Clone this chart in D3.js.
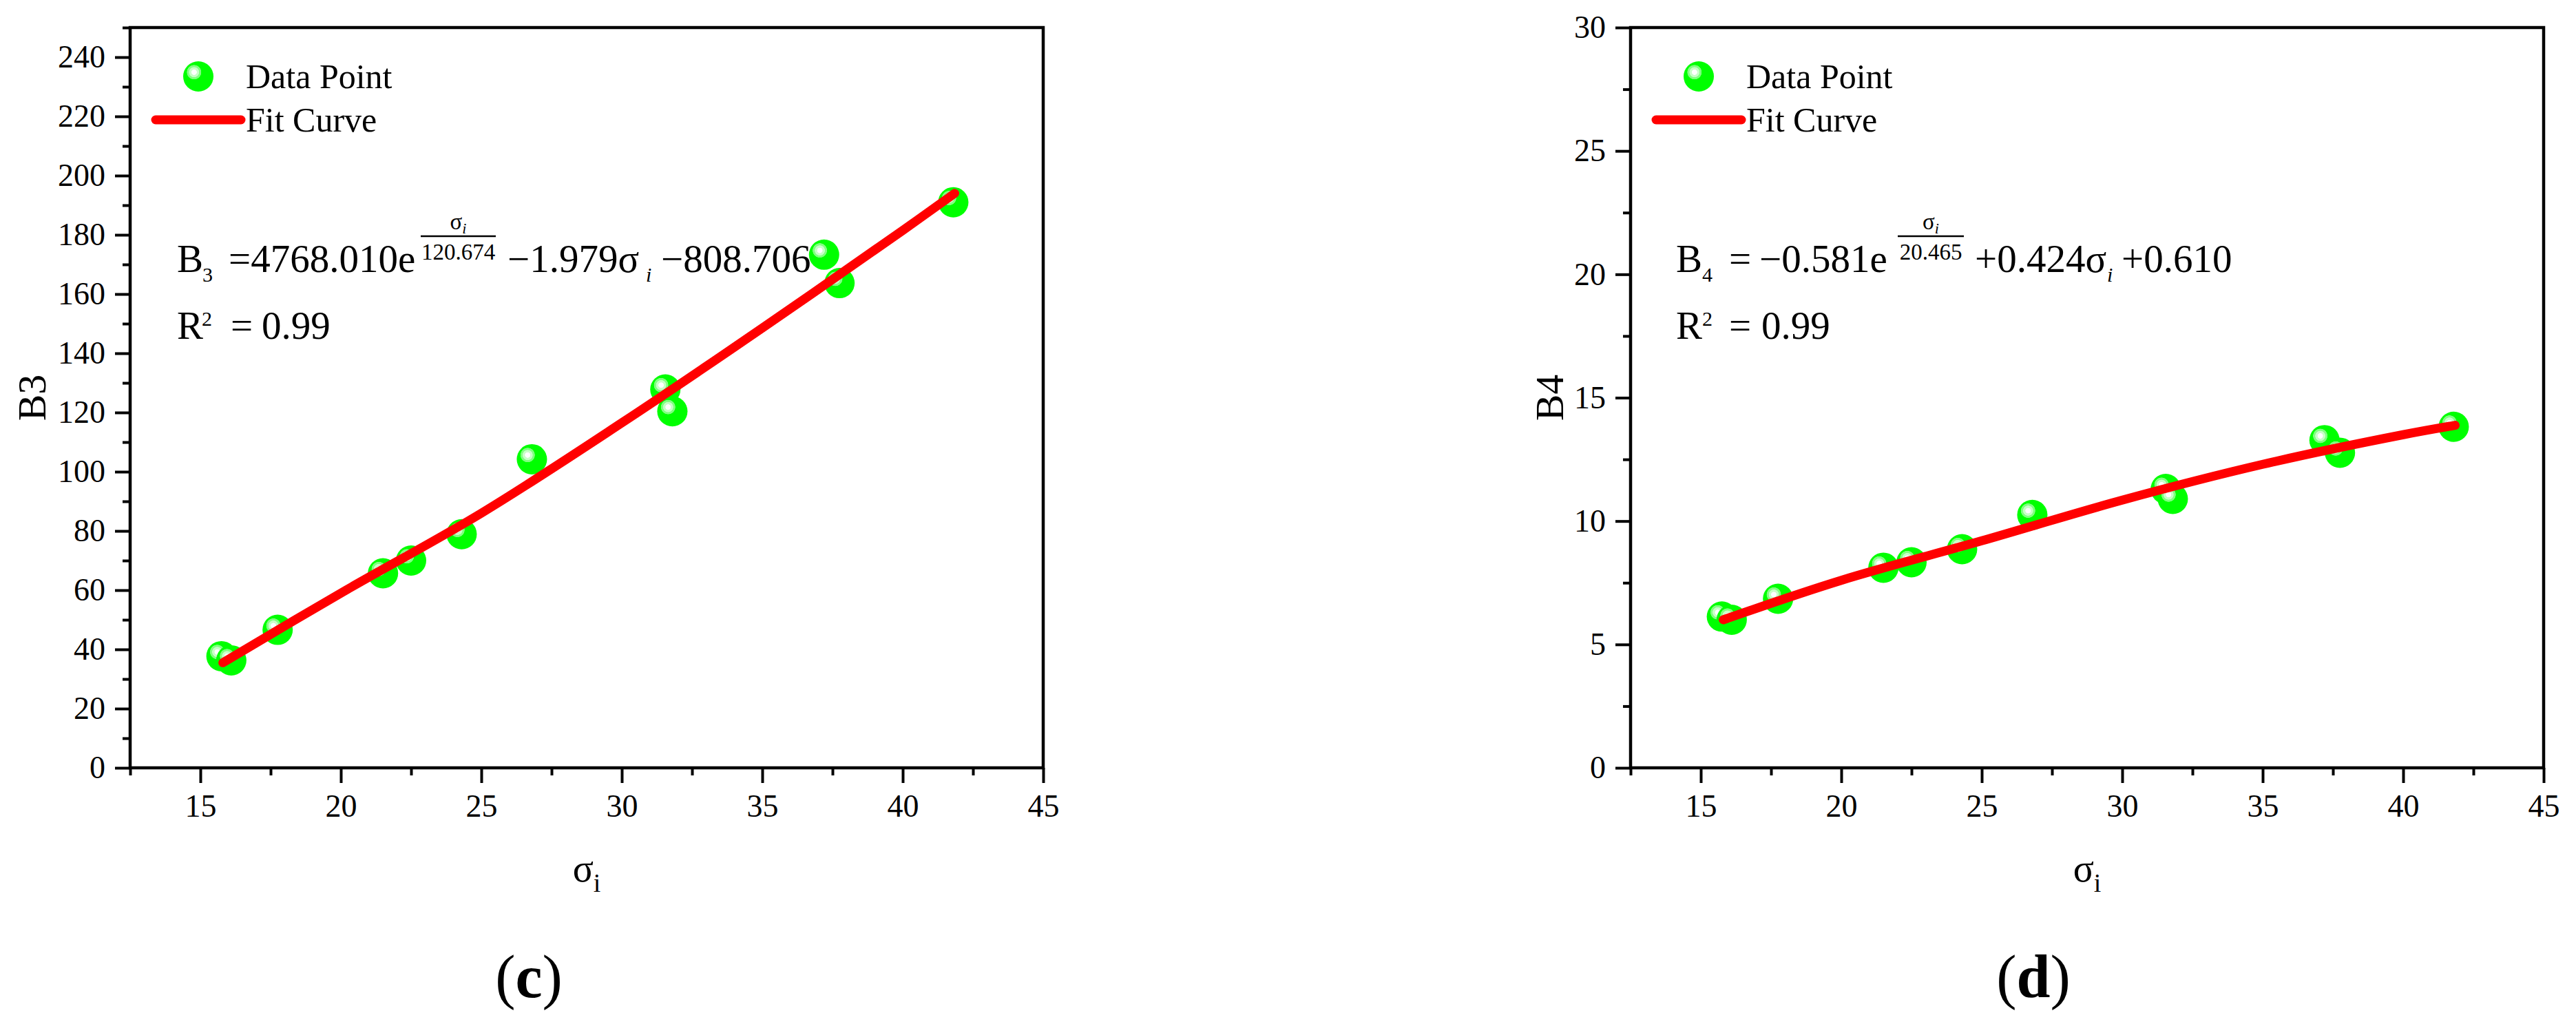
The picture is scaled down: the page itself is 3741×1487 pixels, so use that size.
<!DOCTYPE html>
<html>
<head>
<meta charset="utf-8">
<script src="https://cdn.jsdelivr.net/npm/d3@7"></script>
<style>
  body { margin: 0; background: #fff; }
  text { font-family: "Liberation Serif", "Times New Roman", serif; fill: #000; }
</style>
</head>
<body>
<div id="chart"></div>
<script>
// measured sigma_i of every data point (same for both panels)
const sigmaValues = [15.75, 16.1, 17.75, 21.5, 22.5, 24.3, 26.8, 31.55, 31.8, 37.2, 37.75, 41.8];
const b3Values = [37.7, 36.3, 46.6, 65.7, 70.0, 78.9, 104.2, 127.8, 120.4, 173.3, 163.7, 191.0];
const b4Values = [6.13, 6.0, 6.85, 8.11, 8.33, 8.86, 10.25, 11.3, 10.9, 13.28, 12.77, 13.82];

// fit curve
const fitSigma = [15.8, 20, 25, 30, 35, 40, 41.85];
const fitB3 = [35.5, 59.0, 86.0, 116.5, 148.5, 181.5, 194.0];
const fitB4 = [6.0, 7.6, 9.2, 10.85, 12.3, 13.5, 13.88];

const xTicks = [15, 20, 25, 30, 35, 40, 45];
const xMinorTicks = [12.5, 17.5, 22.5, 27.5, 32.5, 37.5, 42.5];
const b3Ticks = [0, 20, 40, 60, 80, 100, 120, 140, 160, 180, 200, 220, 240];
const b3MinorTicks = [10, 30, 50, 70, 90, 110, 130, 150, 170, 190, 210, 230, 250];
const b4Ticks = [0, 5, 10, 15, 20, 25, 30];
const b4MinorTicks = [2.5, 7.5, 12.5, 17.5, 22.5, 27.5];

const width = 3741;
const height = 1487;
const plotW = 1326;
const plotH = 1075;
const plotTop = 40;

const svg = d3
  .select("#chart")
  .append("svg")
  .attr("width", width)
  .attr("height", height)
  .attr("viewBox", [0, 0, width, height]);

svg.append("rect").attr("width", width).attr("height", height).attr("fill", "#fff");

// shiny green ball
const grad = svg.append("defs").append("radialGradient")
  .attr("id", "ball")
  .attr("cx", 0.36).attr("cy", 0.36).attr("fx", 0.36).attr("fy", 0.36).attr("r", 0.64);
[[0, "#ffffff"], [0.13, "#ffffff"], [0.15, "#c8ffc8"], [0.25, "#c8ffc8"], [0.27, "#80ff80"], [0.36, "#80ff80"], [0.38, "#00ff00"], [1, "#00ff00"]]
  .forEach(([o, c]) => grad.append("stop").attr("offset", o).attr("stop-color", c));

function drawPanel(opts) {
  const g = svg.append("g").attr("transform", `translate(${opts.left},${plotTop})`);

  let x = d3.scaleLinear().domain([12.5, 45]).range([0, plotW]);
  let y = d3.scaleLinear().domain(opts.yDomain).range([plotH, 0]);

  // y axis ticks
  g.append("g")
    .call(d3.axisLeft(y).tickValues(opts.yTicks).tickSize(22).tickSizeOuter(0).tickPadding(14))
    .call((a) => a.select(".domain").remove())
    .call((a) => a.selectAll("line").attr("stroke-width", 4))
    .call((a) => a.selectAll("text").attr("font-size", 46).attr("font-family", null));
  g.append("g")
    .call(d3.axisLeft(y).tickValues(opts.yMinor).tickSize(11).tickFormat(""))
    .call((a) => a.select(".domain").remove())
    .call((a) => a.selectAll("line").attr("stroke-width", 4));

  // x axis ticks
  g.append("g")
    .attr("transform", `translate(0,${plotH})`)
    .call(d3.axisBottom(x).tickValues(xTicks).tickSize(22).tickSizeOuter(0).tickPadding(16))
    .call((a) => a.select(".domain").remove())
    .call((a) => a.selectAll("line").attr("stroke-width", 4))
    .call((a) => a.selectAll("text").attr("font-size", 46).attr("font-family", null));
  g.append("g")
    .attr("transform", `translate(0,${plotH})`)
    .call(d3.axisBottom(x).tickValues(xMinorTicks).tickSize(11).tickFormat(""))
    .call((a) => a.select(".domain").remove())
    .call((a) => a.selectAll("line").attr("stroke-width", 4));

  // frame
  g.append("rect")
    .attr("width", plotW)
    .attr("height", plotH)
    .attr("fill", "none")
    .attr("stroke", "#000")
    .attr("stroke-width", 4.5);

  // data points
  g.selectAll("circle.pt")
    .data(sigmaValues.map((s, i) => ({ s, v: opts.values[i] })))
    .join("circle")
    .attr("class", "pt")
    .attr("cx", (d) => x(d.s))
    .attr("cy", (d) => y(d.v))
    .attr("r", 22)
    .attr("fill", "url(#ball)");

  // fit curve
  let line = d3.line()
    .x((d) => x(d[0]))
    .y((d) => y(d[1]))
    .curve(d3.curveCatmullRom);
  g.append("path")
    .datum(fitSigma.map((s, i) => [s, opts.fit[i]]))
    .attr("fill", "none")
    .attr("stroke", "#ff0000")
    .attr("stroke-width", 13)
    .attr("stroke-linecap", "round")
    .attr("d", line);

  // legend
  g.append("circle").attr("cx", 99).attr("cy", 71).attr("r", 22).attr("fill", "url(#ball)");
  g.append("text").attr("x", 168).attr("y", 88).attr("font-size", 50).text("Data Point");
  g.append("line")
    .attr("x1", 37).attr("x2", 161).attr("y1", 134).attr("y2", 134)
    .attr("stroke", "#ff0000").attr("stroke-width", 13).attr("stroke-linecap", "round");
  g.append("text").attr("x", 168).attr("y", 151).attr("font-size", 50).text("Fit Curve");

  // equation pieces
  for (let p of opts.eq) {
    g.append("text")
      .attr("x", p.x)
      .attr("y", p.y)
      .attr("font-size", p.size)
      .attr("font-style", p.italic ? "italic" : null)
      .text(p.t);
  }
  // exponent fraction sigma_i / c
  let mid = (opts.bar[0] + opts.bar[1]) / 2;
  let num = g.append("text").attr("x", mid).attr("y", 293).attr("text-anchor", "middle").attr("font-size", 33);
  num.append("tspan").text("σ");
  num.append("tspan").attr("font-size", 22).attr("font-style", "italic").attr("dy", 6).text("i");
  g.append("line")
    .attr("x1", opts.bar[0]).attr("x2", opts.bar[1])
    .attr("y1", 303).attr("y2", 303)
    .attr("stroke", "#000").attr("stroke-width", 2.5);
  g.append("text")
    .attr("x", mid).attr("y", 337)
    .attr("text-anchor", "middle")
    .attr("font-size", 33)
    .text(opts.denom);

  // axis titles
  g.append("text")
    .attr("transform", `translate(${opts.yTitleX},${plotH / 2}) rotate(-90)`)
    .attr("text-anchor", "middle")
    .attr("font-size", 58)
    .text(opts.yTitle);

  let xt = g.append("text")
    .attr("x", plotW / 2)
    .attr("y", 1240)
    .attr("text-anchor", "middle")
    .attr("font-size", 56);
  xt.append("tspan").text("σ");
  xt.append("tspan").attr("font-size", 38).attr("dy", 15).text("i");

  // panel label
  let lab = svg.append("text")
    .attr("x", opts.labelX)
    .attr("y", 1448)
    .attr("text-anchor", "middle")
    .attr("font-size", 88);
  lab.append("tspan").text("(");
  lab.append("tspan").attr("font-weight", "bold").text(opts.label);
  lab.append("tspan").text(")");
}

drawPanel({
  left: 189,
  yDomain: [0, 250],
  yTicks: b3Ticks,
  yMinor: b3MinorTicks,
  values: b3Values,
  fit: fitB3,
  yTitle: "B3",
  yTitleX: -123,
  label: "c",
  labelX: 768,
  bar: [422, 531],
  denom: "120.674",
  eq: [
    { t: "B", x: 68, y: 355, size: 57 },
    { t: "3", x: 105, y: 369, size: 30 },
    { t: "=4768.010e", x: 143, y: 355, size: 57 },
    { t: "−1.979σ", x: 548, y: 355, size: 57 },
    { t: "i", x: 749, y: 369, size: 30, italic: true },
    { t: "−808.706", x: 771, y: 355, size: 57 },
    { t: "R", x: 68, y: 452, size: 57 },
    { t: "2", x: 104, y: 433, size: 30 },
    { t: "=", x: 146, y: 452, size: 57 },
    { t: "0.99", x: 191, y: 452, size: 57 },
  ],
});

drawPanel({
  left: 2368,
  yDomain: [0, 30],
  yTicks: b4Ticks,
  yMinor: b4MinorTicks,
  values: b4Values,
  fit: fitB4,
  yTitle: "B4",
  yTitleX: -98,
  label: "d",
  labelX: 2953,
  bar: [388, 484],
  denom: "20.465",
  eq: [
    { t: "B", x: 66, y: 355, size: 57 },
    { t: "4", x: 104, y: 369, size: 30 },
    { t: "=", x: 143, y: 355, size: 57 },
    { t: "−0.581e", x: 187, y: 355, size: 57 },
    { t: "+0.424σ", x: 500, y: 355, size: 57 },
    { t: "i", x: 692, y: 369, size: 30, italic: true },
    { t: "+0.610", x: 713, y: 355, size: 57 },
    { t: "R", x: 66, y: 452, size: 57 },
    { t: "2", x: 104, y: 433, size: 30 },
    { t: "=", x: 143, y: 452, size: 57 },
    { t: "0.99", x: 190, y: 452, size: 57 },
  ],
});
</script>
</body>
</html>
